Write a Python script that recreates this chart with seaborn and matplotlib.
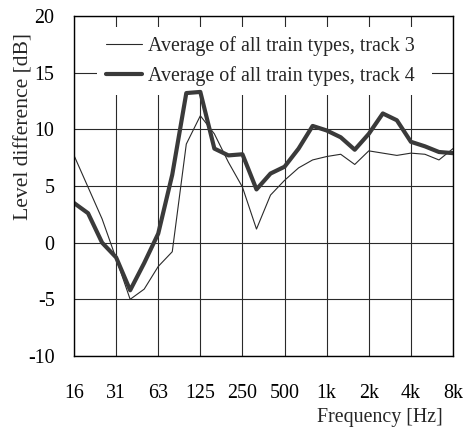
import numpy as np
import pandas as pd
import matplotlib
matplotlib.use("Agg")
import matplotlib.pyplot as plt
import seaborn as sns

bands = ["16", "20", "25", "31.5", "40", "50", "63", "80", "100", "125", "160", "200",
         "250", "315", "400", "500", "630", "800", "1k", "1.25k", "1.6k", "2k", "2.5k",
         "3.15k", "4k", "5k", "6.3k", "8k"]
track3 = [7.7, 4.9, 2.1, -1.4, -5.0, -4.1, -2.1, -0.8, 8.7, 11.2, 9.6, 7.1, 4.9, 1.2,
          4.2, 5.5, 6.6, 7.3, 7.6, 7.8, 6.9, 8.1, 7.9, 7.7, 7.9, 7.8, 7.3, 8.3]
track4 = [3.5, 2.6, 0.0, -1.3, -4.2, -1.8, 0.8, 6.0, 13.2, 13.3, 8.3, 7.7, 7.8, 4.7,
          6.1, 6.7, 8.3, 10.3, 9.9, 9.3, 8.2, 9.6, 11.4, 10.8, 8.9, 8.5, 8.0, 7.9]
series_names = ["Average of all train types, track 3", "Average of all train types, track 4"]
tick_bands = ["16", "31.5", "63", "125", "250", "500", "1k", "2k", "4k", "8k"]
tick_labels = ["16", "31", "63", "125", "250", "500", "1k", "2k", "4k", "8k"]
yticks = [-10, -5, 0, 5, 10, 15, 20]

sns.set_theme(style="white")
plt.rcParams["font.family"] = ["Liberation Serif", "DejaVu Serif"]
plt.rcParams["font.size"] = 14.4

pos = np.arange(len(bands))
df = pd.DataFrame({
    "pos": np.concatenate([pos, pos]),
    "value": track3 + track4,
    "series": [series_names[0]] * len(bands) + [series_names[1]] * len(bands),
})

fig = plt.figure(figsize=(4.66, 4.28), dpi=100)
ax = fig.add_axes([74 / 466, 1 - 356 / 428, (453 - 74) / 466, (356 - 16) / 428])

sns.lineplot(data=df, x="pos", y="value", hue="series", size="series",
             palette=["#2a2a2a", "#3a3a3a"], sizes=[0.8, 3.0], ax=ax,
             legend=True)
for ln in ax.lines:
    ln.set_zorder(6)

ax.set_xlim(0, len(bands) - 1)
ax.set_ylim(-10, 20)
ax.set_xticks([bands.index(b) for b in tick_bands])
ax.set_xticklabels(tick_labels)
ax.set_yticks(yticks)
ax.set_yticklabels([str(t) for t in yticks])
ax.grid(True, color="#2a2a2a", linewidth=0.8, zorder=0)
ax.set_axisbelow(True)
ax.tick_params(axis="both", length=0, labelsize=14.4, colors="black")
ax.tick_params(axis="x", pad=20)
ax.tick_params(axis="y", pad=14)
for s in ax.spines.values():
    s.set_color("black")
    s.set_linewidth(1.0)
    s.set_zorder(7)

ax.set_xlabel("Frequency [Hz]", fontsize=14.4, ha="right")
ax.xaxis.set_label_coords(0.974, -0.152)
ax.set_ylabel("Level difference [dB]", fontsize=15.6)
ax.yaxis.set_label_coords(-0.106, 0.676)

top = (356 - 27) / 340
handles, labels = ax.get_legend_handles_labels()
leg = ax.legend(handles, labels, loc="upper left",
                bbox_to_anchor=((97 - 74) / 379, top - 0.2, (432 - 97) / 379, 0.2),
                mode="expand", frameon=True, fancybox=False, framealpha=1,
                facecolor="white", edgecolor="none", fontsize=14.4,
                handlelength=1.8, handletextpad=0.3, borderpad=0.45,
                borderaxespad=0, labelspacing=0.5)
leg.set_zorder(5)

fig.savefig("out.png", dpi=100)
